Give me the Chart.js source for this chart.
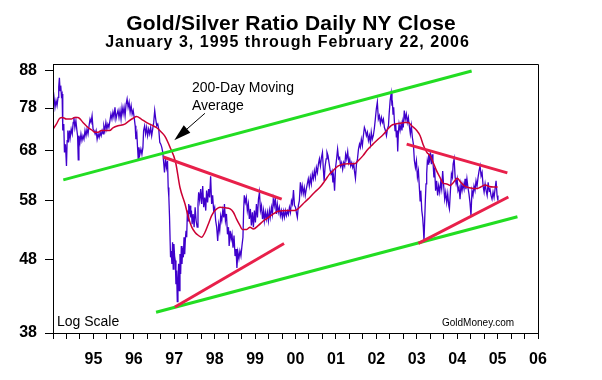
<!DOCTYPE html>
<html>
<head>
<meta charset="utf-8">
<script src="https://cdn.jsdelivr.net/npm/chart.js@4.4.1/dist/chart.umd.min.js"></script>
<style>
html,body{margin:0;padding:0;background:#fff;}
#wrap{width:602px;height:380px;position:relative;}
</style>
</head>
<body>
<div id="wrap"><canvas id="c" width="602" height="380"></canvas></div>
<script>
// ---- data (x = months since January 1995) ----
const yearLabels = ['95','96','97','98','99','00','01','02','03','04','05','06'];
const yTicks = [38, 48, 58, 68, 78, 88];

const ratioMonths = [
0,0.3,0.6,0.9,1.2,1.5,1.7,1.9,2.1,2.3,2.5,2.7,2.9,3.2,3.4,3.7,4.0,4.2,4.4,4.6,4.9,5.1,5.4,5.7,6.0,6.2,6.5,6.8,7.1,7.3,7.5,7.7,8.0,8.3,8.6,8.9,9.2,9.5,9.8,10.1,10.4,10.7,11.0,11.3,11.6,11.9,12.2,12.5,12.8,13.1,13.4,13.7,14.0,14.3,14.6,14.9,15.1,15.4,15.7,16.0,16.3,16.6,16.9,17.2,17.5,17.8,18.1,18.4,18.7,19.0,19.3,19.6,19.9,20.2,20.5,20.8,21.1,21.4,21.7,22.0,22.3,22.6,22.9,23.2,23.5,23.8,24.1,24.4,24.6,24.9,25.1,25.3,25.5,25.8,26.1,26.4,26.7,26.9,27.2,27.5,27.8,28.1,28.4,28.7,29.0,29.3,29.6,29.9,30.2,30.5,30.8,31.1,31.4,31.7,32.0,32.3,32.6,32.9,33.1,33.4,33.7,34.0,
34.2,34.4,34.6,34.9,35.1,35.3,35.5,35.7,35.9,36.1,36.3,36.5,36.7,36.9,37.1,37.3,37.5,37.7,37.9,38.1,38.3,38.5,38.7,38.9,39.1,39.3,39.5,39.7,39.9,40.1,40.3,40.5,40.7,40.9,41.1,41.3,41.6,41.9,42.2,42.5,42.8,43.05,43.25,43.55,43.85,44.15,44.45,44.75,45.05,45.35,45.6,45.9,46.2,46.5,46.8,47.1,47.4,47.7,48.0,48.3,48.6,48.9,49.2,49.5,49.8,50.1,50.4,50.7,50.9,51.2,51.5,51.8,52.1,52.3,52.6,52.9,53.15,53.45,53.75,54.05,54.35,54.6,54.9,55.2,55.5,55.8,56.1,56.4,56.6,56.8,57.1,57.4,57.7,58.0,58.3,58.6,58.9,59.2,59.5,59.8,60.1,60.4,60.7,61.0,61.3,61.6,61.9,62.2,62.5,62.75,63.05,63.35,63.65,63.95,64.25,64.5,64.85,65.15,65.4,65.7,66.0,66.3,66.6,66.9,67.2,
67.5,67.8,68.1,68.4,68.7,69.0,69.3,69.6,69.9,70.2,70.5,70.8,71.1,71.4,71.7,72.0,72.25,72.55,72.85,73.15,73.45,73.75,74.0,74.3,74.6,74.9,75.2,75.5,75.8,76.1,76.4,76.7,77.0,77.3,77.6,77.9,78.2,78.5,78.8,79.1,79.4,79.7,80.0,80.3,80.5,80.8,81.1,81.35,81.65,81.95,82.25,82.55,82.85,83.1,83.35,83.6,83.9,84.2,84.5,84.8,85.1,85.4,85.7,86.0,86.3,86.6,86.9,87.2,87.5,87.8,88.1,88.4,88.7,89.0,89.3,89.5,89.8,90.1,90.4,90.7,91.0,91.25,91.55,91.85,92.15,92.45,92.75,93.05,93.35,93.65,93.95,94.25,94.5,94.8,95.1,95.4,95.7,96.0,96.3,96.6,96.9,97.2,97.5,97.8,98.1,98.4,98.7,99.0,99.3,99.6,99.8,100.1,100.4,100.65,
100.75,100.95,101.15,101.35,101.55,101.75,101.95,102.15,102.35,102.55,102.75,103.05,103.35,103.6,103.8,104.0,104.3,104.6,104.9,105.2,105.5,105.8,106.1,106.4,106.7,107.0,107.3,107.6,107.9,108.2,108.5,108.8,109.0,109.2,109.5,109.75,109.95,110.15,110.35,110.55,110.75,110.95,111.15,111.35,111.55,111.75,112.05,112.35,112.6,112.8,113.1,113.3,113.6,113.9,114.2,114.5,114.8,115.1,115.4,115.7,116.0,116.3,116.6,116.9,117.2,117.5,117.7,118.0,118.3,118.6,118.8,119.1,119.4,119.7,120.0,120.25,120.55,120.85,121.15,121.45,121.75,122.05,122.35,122.6,122.9,123.2,123.5,123.8,124.1,124.4,124.7,125.0,125.3,125.6,125.9,126.2,126.5,126.8,127.1,127.4,127.7,128.0,128.3,128.6,128.9,129.2,129.5,129.75,130.05,130.35,130.65,130.95,131.25,131.55,131.85,132.1
];
const ratioValues = [
78.6,80.7,78.2,79.9,78.6,80.7,83.4,85.9,82.5,83.8,81.1,81.6,72.6,74.1,67.7,69.5,64.8,70.3,72.6,69.9,72.6,71.0,72.9,71.8,74.5,75.7,73.3,74.9,72.6,71.4,66.1,71.4,69.9,71.8,70.3,71.4,70.6,72.6,71.4,72.9,71.8,73.7,75.3,74.5,76.1,72.9,72.6,71.8,72.6,70.6,71.8,71.0,72.2,71.4,72.6,71.8,73.7,72.6,74.5,72.9,74.1,73.3,74.9,76.5,75.3,77.0,75.7,78.2,75.3,76.5,77.4,75.7,77.4,75.3,78.2,76.5,78.2,76.1,79.0,80.3,78.2,79.5,77.0,78.6,76.5,77.4,75.7,73.7,70.6,71.8,68.8,66.3,68.8,67.3,68.4,67.3,68.8,72.6,73.7,71.8,73.3,71.4,72.9,71.8,73.3,71.4,72.9,74.5,77.4,75.3,73.7,74.1,72.9,69.9,69.5,68.8,67.7,65.2,63.5,66.3,64.5,65.9,
60.5,58.6,55.0,48.4,49.4,47.4,50.8,46.6,50.5,48.6,47.9,44.4,46.4,42.0,44.9,47.4,43.5,48.9,45.9,50.2,47.4,49.9,48.4,51.6,48.9,51.3,52.7,51.6,56.2,54.4,57.4,55.6,57.1,55.0,56.2,53.8,55.6,53.3,56.8,54.4,53.3,57.4,59.6,58.0,60.2,57.4,60.8,56.8,58.6,56.2,59.9,57.7,60.2,58.6,62.7,57.4,59.0,56.2,56.8,54.4,53.3,51.0,53.8,52.7,55.3,54.4,56.2,55.0,57.4,54.4,55.6,52.1,53.3,50.2,52.7,51.3,52.1,49.9,51.9,48.6,49.7,46.8,49.2,48.2,49.4,48.6,50.2,51.6,56.2,59.0,57.7,58.6,56.2,57.4,54.7,56.5,53.6,55.9,53.3,56.2,54.1,57.4,55.0,58.3,59.6,56.2,57.1,54.7,56.2,54.4,55.9,54.7,55.9,54.4,56.2,55.0,56.8,55.6,58.3,57.1,58.6,55.6,57.4,55.9,56.8,
55.3,56.2,54.9,56.1,55.0,56.2,55.3,56.1,55.5,56.8,55.9,58.0,57.4,60.0,57.1,56.8,55.9,55.0,57.1,58.0,61.5,59.6,60.8,59.3,60.5,59.0,60.2,61.2,62.2,60.8,62.5,61.2,63.2,62.2,63.8,62.5,64.5,63.5,65.2,66.3,64.8,66.6,67.7,63.8,61.8,64.8,66.3,67.7,67.0,65.5,64.1,63.2,63.8,61.5,62.5,59.9,64.5,66.3,68.4,66.3,66.6,64.8,65.5,64.1,65.5,64.8,67.3,66.3,67.9,65.5,66.3,64.8,65.5,64.5,65.2,63.8,62.3,65.2,66.3,68.4,69.5,68.8,70.6,69.2,71.4,73.3,72.6,71.4,72.2,70.3,71.4,69.7,72.2,70.6,71.4,73.0,75.3,77.8,79.5,75.3,76.1,74.3,75.7,74.5,75.3,73.3,72.6,71.4,73.0,73.7,76.5,79.9,81.8,78.6,79.9,
76.5,78.2,74.9,72.6,74.1,71.0,72.6,67.9,72.2,74.1,72.6,74.1,72.6,74.5,73.3,77.4,75.3,76.5,74.5,75.7,73.7,71.8,73.7,71.0,69.5,65.9,64.5,65.9,62.5,63.8,60.2,58.0,59.9,56.2,55.0,53.3,51.0,54.4,58.0,61.2,63.2,65.9,65.2,67.3,65.5,67.7,65.2,67.3,65.9,62.5,64.5,59.9,61.8,59.0,60.8,59.6,61.5,60.2,63.8,60.8,58.3,59.6,57.7,59.3,57.1,56.5,59.9,63.2,62.5,65.2,66.3,62.5,61.2,62.2,59.9,60.5,58.3,61.2,59.9,61.2,60.2,62.2,60.2,62.2,60.5,59.3,57.7,55.3,59.9,59.0,60.8,59.9,61.8,60.8,62.5,63.8,64.8,62.8,63.5,60.8,59.6,61.2,59.9,59.0,61.5,59.9,60.2,59.0,58.3,59.6,58.6,60.2,61.8,59.0,58.0,58.6
];

const maMonths = [0,1,2,2.8,4,5.4,6.4,7.4,8.9,10.4,11.7,12.4,13.4,14.4,15.8,16.8,17.8,19.3,21.3,22.3,23.8,24.8,26.2,27.7,29.2,30.7,32.2,33.2,34.7,36.4,37.7,39.2,40.2,41.2,42.2,43.2,44.1,45.1,46.1,47.1,48.1,49.6,51.1,52.6,53.55,54.5,55.5,56.2,57.5,58.5,59.5,61.0,62.5,64.0,65.4,66.8,69.8,71.75,72.7,74.2,75.7,77.7,79.2,80.7,82.15,83.1,84.6,86.1,87.6,88.6,89.6,90.6,92.05,93.5,95.0,96.5,98.0,99.5,100.5,101.5,103.0,104.5,105.5,106.5,108.0,109.0,110.0,111.0,111.95,112.9,113.9,114.9,115.9,116.9,117.9,118.9,120.0,121.0,122.0,122.8,124.0,125.8,127.0,128.3,129.5,130.8,132.0];
const maValues = [72.9,74.1,75.5,75.7,75.3,75.3,75.7,75.7,74.5,73.3,72.6,72.2,72.2,72.6,72.6,72.6,73.2,73.7,74.1,74.7,75.5,75.9,75.3,74.5,73.9,73.3,72.2,71.3,68.9,65.6,60.5,57.4,55.0,53.3,52.4,51.9,51.6,52.4,53.8,55.3,56.2,56.8,56.7,56.5,55.9,54.7,53.6,52.9,52.9,53.3,53.0,53.6,54.4,55.0,55.6,56.1,56.2,56.2,56.5,57.4,58.3,59.6,60.5,61.8,63.2,63.8,64.8,65.2,65.3,65.3,65.3,65.9,67.0,68.4,69.5,70.6,71.6,73.0,73.8,74.1,74.3,74.5,74.5,73.7,72.6,71.4,69.2,67.7,67.0,65.5,63.8,62.5,61.3,61.2,60.9,61.5,62.3,61.6,60.9,60.6,60.4,60.3,60.6,61.0,60.7,60.6,60.6];

// trend channel (green) and triangle lines (red): [startMonth, startValue, endMonth, endValue]
const greenUpper = [3.06, 62.0, 124.3, 87.8];
const greenLower = [30.6, 40.6, 137.9, 55.1];
const redTop97 = [32.75, 66.7, 67.9, 58.3];
const redBottom97 = [36.2, 41.3, 68.6, 50.6];
const redTop03 = [105.0, 69.5, 134.9, 63.4];
const redBottom03 = [108.5, 50.6, 135.2, 58.7];
// annotation arrow: tail and tip
const arrowTail = [45.1, 76.7];
const arrowTip = [36.0, 70.4];

const pts = (xs, ys) => xs.map((x, i) => ({x: x, y: ys[i]}));
const seg = (s) => [{x: s[0], y: s[1]}, {x: s[2], y: s[3]}];

const GREEN = '#22dd22', TREND = '#e8204a', MA = '#cc0033', BLUE = '#3f00cc';

function spacedText(ctx, text, cx, y, spacing) {
  if ('letterSpacing' in ctx) {
    ctx.letterSpacing = spacing + 'px';
    const w = ctx.measureText(text).width;
    ctx.textAlign = 'left';
    ctx.fillText(text, cx - (w - spacing) / 2, y);
    ctx.letterSpacing = '0px';
  } else {
    ctx.textAlign = 'center';
    ctx.fillText(text, cx, y);
  }
}

const overlay = {
  id: 'overlay',
  afterDraw(chart) {
    const {ctx, chartArea: a, scales: {x, y}} = chart;
    ctx.save();
    ctx.strokeStyle = '#000';
    ctx.lineWidth = 1;
    ctx.beginPath();
    ctx.moveTo(Math.round(a.left) + 0.5, Math.round(a.bottom) + 0.5);
    ctx.lineTo(Math.round(a.left) + 0.5, Math.round(a.top) + 0.5);
    ctx.lineTo(Math.round(a.right) + 0.5, Math.round(a.top) + 0.5);
    ctx.lineTo(Math.round(a.right) + 0.5, Math.round(a.bottom) + 0.5);
    ctx.stroke();

    // arrow
    const tx = x.getPixelForValue(arrowTail[0]), ty = y.getPixelForValue(arrowTail[1]);
    const hx = x.getPixelForValue(arrowTip[0]), hy = y.getPixelForValue(arrowTip[1]);
    const ang = Math.atan2(hy - ty, hx - tx);
    const L = 17, W = 5;
    const bx = hx - L * Math.cos(ang), by = hy - L * Math.sin(ang);
    ctx.beginPath();
    ctx.moveTo(tx, ty); ctx.lineTo(bx, by); ctx.stroke();
    ctx.fillStyle = '#000';
    ctx.beginPath();
    ctx.moveTo(hx, hy);
    ctx.lineTo(bx + W * Math.sin(ang), by - W * Math.cos(ang));
    ctx.lineTo(bx - W * Math.sin(ang), by + W * Math.cos(ang));
    ctx.closePath(); ctx.fill();

    // texts
    ctx.fillStyle = '#000';
    ctx.textBaseline = 'alphabetic';
    ctx.font = 'bold 21px "Liberation Sans", Arial, sans-serif';
    spacedText(ctx, 'Gold/Silver Ratio Daily NY Close', 291, 30, 0.2);
    ctx.font = 'bold 16px "Liberation Sans", Arial, sans-serif';
    spacedText(ctx, 'January 3, 1995 through February 22, 2006', 287, 47, 1);
    ctx.textAlign = 'left';
    ctx.font = '14px "Liberation Sans", Arial, sans-serif';
    ctx.fillText('200-Day Moving', 192, 92);
    ctx.fillText('Average', 192, 110);
    ctx.fillText('Log Scale', 57, 326);
    ctx.font = '10px "Liberation Sans", Arial, sans-serif';
    ctx.fillText('GoldMoney.com', 442, 326);
    ctx.restore();
  }
};

new Chart(document.getElementById('c'), {
  type: 'line',
  data: {
    datasets: [
      {data: seg(redTop97), borderColor: TREND, borderWidth: 3, order: 1},
      {data: seg(redBottom97), borderColor: TREND, borderWidth: 3, order: 1},
      {data: seg(redTop03), borderColor: TREND, borderWidth: 3, order: 1},
      {data: seg(redBottom03), borderColor: TREND, borderWidth: 3, order: 1},
      {data: seg(greenUpper), borderColor: GREEN, borderWidth: 3, order: 2},
      {data: seg(greenLower), borderColor: GREEN, borderWidth: 3, order: 2},
      {data: pts(maMonths, maValues), borderColor: MA, borderWidth: 1.5, order: 3, cubicInterpolationMode: 'monotone', tension: 0.4},
      {data: pts(ratioMonths, ratioValues), borderColor: BLUE, borderWidth: 1.3, order: 4}
    ]
  },
  options: {
    responsive: false,
    animation: false,
    parsing: true,
    elements: {point: {radius: 0}, line: {tension: 0, fill: false}},
    layout: {padding: {top: 64, right: 64, left: 0, bottom: 0}},
    plugins: {legend: {display: false}, tooltip: {enabled: false}, title: {display: false}},
    scales: {
      x: {
        type: 'linear', min: 0, max: 144,
        afterFit(s) { s.height = 47; },
        border: {display: true, color: '#000', width: 1},
        grid: {drawOnChartArea: false, drawTicks: true, tickLength: 6, color: '#000'},
        ticks: {
          stepSize: 4, autoSkip: false, maxRotation: 0, padding: 11, color: '#000',
          font: {family: '"Liberation Sans Narrow", "Liberation Sans", Arial', size: 16, weight: 'bold'},
          callback: (v) => (v % 12 === 0 && v > 0) ? yearLabels[v / 12 - 1] : ''
        }
      },
      y: {
        type: 'logarithmic', min: 38, max: 89.8,
        afterFit(s) { s.width = 53; },
        afterBuildTicks(axis) { axis.ticks = yTicks.map(v => ({value: v})); },
        border: {display: true, color: '#000', width: 1},
        grid: {drawOnChartArea: false, drawTicks: true, tickLength: 8, color: '#000'},
        ticks: {
          padding: 8, color: '#000',
          font: {family: '"Liberation Sans", Arial', size: 16, weight: 'bold'},
          callback: (v) => String(v)
        }
      }
    }
  },
  plugins: [overlay]
});
</script>
</body>
</html>
